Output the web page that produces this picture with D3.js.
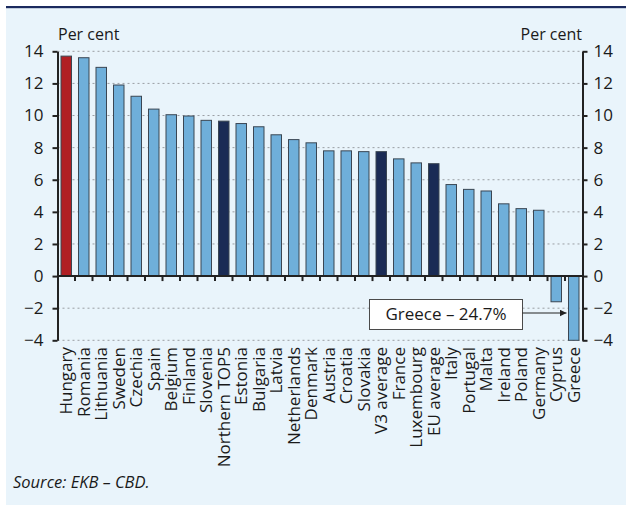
<!DOCTYPE html>
<html>
<head>
<meta charset="utf-8">
<script src="https://cdn.jsdelivr.net/npm/d3@7"></script>
<style>
  body { margin: 0; background: #ffffff; }
  text { font-family: "Open Sans", "DejaVu Sans", sans-serif; fill: #1a1a1a; }
</style>
</head>
<body>
<svg id="chart" width="626" height="507"></svg>
<script>
// Per cent values by country / group
const categories = [
  "Hungary", "Romania", "Lithuania", "Sweden", "Czechia", "Spain", "Belgium",
  "Finland", "Slovenia", "Northern TOP5", "Estonia", "Bulgaria", "Latvia",
  "Netherlands", "Denmark", "Austria", "Croatia", "Slovakia", "V3 average",
  "France", "Luxembourg", "EU average", "Italy", "Portugal", "Malta", "Ireland",
  "Poland", "Germany", "Cyprus", "Greece"
];
const values = [
  13.7, 13.6, 13.0, 11.9, 11.2, 10.4, 10.05,
  9.97, 9.7, 9.65, 9.5, 9.3, 8.8,
  8.5, 8.3, 7.8, 7.8, 7.75, 7.75,
  7.3, 7.05, 7.0, 5.7, 5.4, 5.3, 4.5,
  4.2, 4.1, -1.6, -24.7
];
const redBars = ["Hungary"];
const averageBars = ["Northern TOP5", "V3 average", "EU average"];
const yTicks = [-4, -2, 0, 2, 4, 6, 8, 10, 12, 14];
const unitLabel = "Per cent";
const calloutName = "Greece";
const sourceText = "Source: EKB – CBD.";

const svg = d3.select("#chart");
const plot = { left: 57.5, right: 582.5, top: 51.3, bottom: 340.3 };

// panel background and top rule
svg.append("rect").attr("x", 6).attr("y", 8).attr("width", 620).attr("height", 497)
  .attr("fill", "#e9f4fb");
svg.append("rect").attr("x", 6).attr("y", 6).attr("width", 620).attr("height", 2.2)
  .attr("fill", "#1b2a5e");

const x = d3.scaleBand().domain(categories).range([plot.left, plot.right])
  .paddingInner(0.4).paddingOuter(0.2);
const y = d3.scaleLinear().domain([-4, 14]).range([plot.bottom, plot.top]).clamp(true);

// dotted gridlines
svg.append("g").selectAll("line").data(yTicks.filter(t => t !== 0)).join("line")
  .attr("x1", plot.left).attr("x2", plot.right)
  .attr("y1", d => y(d)).attr("y2", d => y(d))
  .attr("stroke", "#9a9ea3").attr("stroke-width", 1).attr("stroke-dasharray", "2,3");

// bars (values beyond the axis range are clipped to it)
svg.append("g").selectAll("rect").data(categories).join("rect")
  .attr("x", d => x(d))
  .attr("width", x.bandwidth())
  .attr("y", (d, i) => Math.min(y(values[i]), y(0)))
  .attr("height", (d, i) => Math.abs(y(values[i]) - y(0)))
  .attr("fill", d => redBars.includes(d) ? "#b01f24" : averageBars.includes(d) ? "#1a2b55" : "#6fafda")
  .attr("stroke", "#3a4653").attr("stroke-width", 1);

// zero line with category separators
const xAxis = svg.append("g");
xAxis.append("line").attr("x1", plot.left).attr("x2", plot.right)
  .attr("y1", y(0)).attr("y2", y(0)).attr("stroke", "#222").attr("stroke-width", 2);
xAxis.selectAll("line.sep").data(d3.range(1, categories.length)).join("line")
  .attr("class", "sep")
  .attr("x1", i => plot.left + i * x.step()).attr("x2", i => plot.left + i * x.step())
  .attr("y1", y(0)).attr("y2", y(0) + 5)
  .attr("stroke", "#222").attr("stroke-width", 2);

// vertical axes
function styleAxis(g) {
  g.select(".domain").attr("stroke", "#222").attr("stroke-width", 2);
  g.selectAll(".tick line").attr("stroke", "#222").attr("stroke-width", 2);
  g.selectAll(".tick text").style("font-family", "'Open Sans', sans-serif")
    .style("font-size", "17px").attr("fill", "#1a1a1a");
}
const fmt = d => (d < 0 ? "\u2212" + Math.abs(d) : String(d));
svg.append("g").attr("transform", `translate(${plot.left},0)`)
  .call(d3.axisLeft(y).tickValues(yTicks).tickFormat(fmt).tickSize(5).tickSizeOuter(0).tickPadding(9))
  .call(styleAxis);
svg.append("g").attr("transform", `translate(${plot.right},0)`)
  .call(d3.axisRight(y).tickValues(yTicks).tickFormat(fmt).tickSize(5).tickSizeOuter(0).tickPadding(6))
  .call(styleAxis);

// unit labels
svg.append("text").attr("x", 58).attr("y", 40).style("font-size", "16px").text(unitLabel);
svg.append("text").attr("x", 582).attr("y", 40).attr("text-anchor", "end")
  .style("font-size", "16px").text(unitLabel);

// category labels
svg.append("g").selectAll("text").data(categories).join("text")
  .attr("transform", d => `translate(${x(d) + x.bandwidth() / 2},347) rotate(-90)`)
  .attr("dy", "0.36em")
  .attr("text-anchor", "end")
  .style("font-size", "17px")
  .text(d => d);

// callout for the clipped bar
const calloutValue = values[categories.indexOf(calloutName)];
svg.append("defs").append("marker")
  .attr("id", "arrow").attr("viewBox", "0 0 10 10").attr("refX", 10).attr("refY", 5)
  .attr("markerWidth", 7).attr("markerHeight", 7).attr("markerUnits", "userSpaceOnUse")
  .attr("orient", "auto")
  .append("path").attr("d", "M0,0L10,5L0,10Z").attr("fill", "#222");
const box = { x: 369.5, y: 299.5, w: 153, h: 30 };
svg.append("rect").attr("x", box.x).attr("y", box.y).attr("width", box.w).attr("height", box.h)
  .attr("fill", "#ffffff").attr("stroke", "#4a4a4a").attr("stroke-width", 1);
svg.append("text").attr("x", box.x + box.w / 2).attr("y", box.y + box.h / 2)
  .attr("dy", "0.35em").attr("text-anchor", "middle").style("font-size", "17px")
  .text(`${calloutName} \u2013 ${Math.abs(calloutValue)}%`);
svg.append("line").attr("x1", box.x + box.w).attr("x2", x(calloutName) - 2)
  .attr("y1", box.y + box.h / 2 - 1.5).attr("y2", box.y + box.h / 2 - 1.5)
  .attr("stroke", "#222").attr("stroke-width", 1.2).attr("marker-end", "url(#arrow)");

// source note
svg.append("text").attr("x", 13).attr("y", 488).style("font-size", "16.5px")
  .style("font-style", "italic").text(sourceText);
</script>
</body>
</html>
